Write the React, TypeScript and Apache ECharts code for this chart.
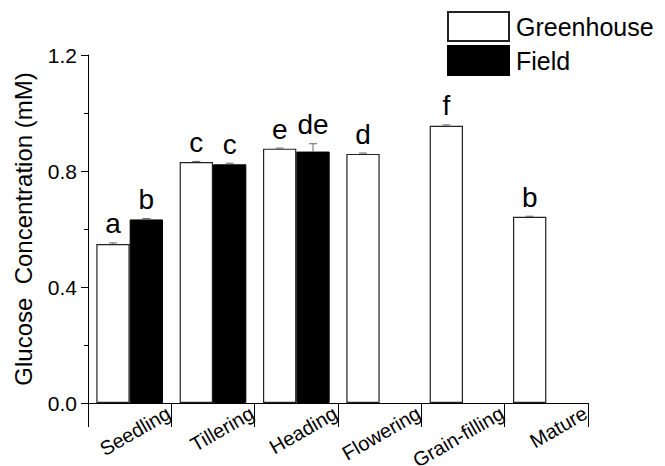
import React, { useEffect, useRef } from "react";
import * as echarts from "echarts";

const categories = ["Seedling", "Tillering", "Heading", "Flowering", "Grain-filling", "Mature"];
const greenhouse = [0.548, 0.831, 0.877, 0.859, 0.956, 0.642];
const greenhouseErr = [0.004, 0.002, 0.002, 0.003, 0.003, 0.002];
const greenhouseLetters = ["a", "c", "e", "d", "f", "b"];
const field: (number | null)[] = [0.633, 0.823, 0.867, null, null, null];
const fieldErr: (number | null)[] = [0.003, 0.004, 0.027, null, null, null];
const fieldLetters: (string | null)[] = ["b", "c", "de", null, null, null];
const yTicks = [0, 0.4, 0.8, 1.2];

const FONT = "'Liberation Sans', Arial, sans-serif";

export default function App() {
  const ref = useRef<HTMLDivElement>(null);
  useEffect(() => {
    if (!ref.current) return;
    const chart = echarts.init(ref.current, undefined, { renderer: "svg" });

    const errItems: { ci: number; v: number; e: number; side: number; letter: string }[] = [];
    categories.forEach((_, i) => {
      errItems.push({ ci: i, v: greenhouse[i], e: greenhouseErr[i], side: -1, letter: greenhouseLetters[i] });
      if (field[i] != null) {
        errItems.push({ ci: i, v: field[i] as number, e: (fieldErr[i] as number) || 0, side: 1, letter: fieldLetters[i] || "" });
      }
    });

    chart.setOption({
      animation: false,
      textStyle: { fontFamily: FONT, color: "#000" },
      legend: {
        orient: "vertical",
        left: 447,
        top: 11,
        padding: 0,
        itemWidth: 61,
        itemHeight: 29,
        itemGap: 3,
        icon: "rect",
        data: ["Greenhouse", "Field"],
        textStyle: { fontSize: 25, fontFamily: FONT, color: "#000", padding: [0, 0, 0, 2] },
      },
      grid: { left: 88, top: 55, width: 500, height: 348, containLabel: false, outerBoundsMode: "none" },
      xAxis: [
        {
          type: "category",
          data: categories,
          boundaryGap: true,
          axisLine: { show: true, lineStyle: { color: "#000", width: 1 } },
          axisTick: { show: true, length: 24, lineStyle: { color: "#000", width: 1 } },
          axisLabel: { show: false },
          splitLine: { show: false },
        },
        {
          type: "category",
          position: "bottom",
          data: ["", ...categories],
          boundaryGap: false,
          axisLine: { show: false },
          axisTick: { show: false },
          splitLine: { show: false },
          axisLabel: {
            interval: 0,
            rotate: 30,
            margin: 7,
            align: "right",
            verticalAlign: "middle",
            padding: [0, 3, 0, 0],
            fontSize: 20,
            fontFamily: FONT,
            color: "#000",
            hideOverlap: false,
          },
        },
      ],
      yAxis: {
        type: "value",
        min: yTicks[0],
        max: yTicks[yTicks.length - 1],
        interval: 0.4,
        name: "Glucose  Concentration (mM)",
        nameLocation: "middle",
        nameGap: 53,
        nameTextStyle: { fontSize: 24, fontFamily: FONT, color: "#000" },
        axisLine: { show: true, lineStyle: { color: "#000", width: 1 } },
        axisTick: { show: true, length: 7, lineStyle: { color: "#000", width: 1 } },
        minorTick: { show: true, splitNumber: 2, length: 4, lineStyle: { color: "#000", width: 1 } },
        splitLine: { show: false },
        axisLabel: {
          fontSize: 21,
          margin: 11,
          fontFamily: FONT,
          color: "#000",
          formatter: (v: number) => v.toFixed(1),
        },
      },
      series: [
        {
          name: "Greenhouse",
          type: "bar",
          xAxisIndex: 0,
          data: greenhouse,
          barGap: "0%",
          barCategoryGap: "20%",
          itemStyle: { color: "#fff", borderColor: "#222", borderWidth: 1.2 },
        },
        {
          name: "Field",
          type: "bar",
          xAxisIndex: 0,
          data: field,
          barGap: "0%",
          barCategoryGap: "20%",
          itemStyle: { color: "#000", borderColor: "#000", borderWidth: 1 },
        },
        {
          name: "errors",
          type: "custom",
          xAxisIndex: 0,
          z: 10,
          data: errItems.map((d) => [d.ci, d.v, d.e, d.side]),
          renderItem: (params: any, api: any) => {
            const item = errItems[params.dataIndex];
            const ci = api.value(0);
            const v = api.value(1);
            const e = api.value(2);
            const side = api.value(3);
            const base = api.coord([ci, v]);
            const band = api.size([1, 0])[0];
            const x = base[0] + side * band * 0.2;
            const yTop = api.coord([ci, v + e])[1];
            return {
              type: "group",
              children: [
                { type: "line", shape: { x1: x, y1: base[1], x2: x, y2: yTop }, style: { stroke: "#666", lineWidth: 1 } },
                { type: "line", shape: { x1: x - 4, y1: yTop, x2: x + 4, y2: yTop }, style: { stroke: "#666", lineWidth: 1 } },
                {
                  type: "text",
                  x: x,
                  y: yTop - 19,
                  style: {
                    text: item.letter,
                    fontSize: 28,
                    fontFamily: FONT,
                    fill: "#000",
                    align: "center",
                    verticalAlign: "middle",
                  },
                },
              ],
            };
          },
        },
      ],
    });
    return () => chart.dispose();
  }, []);
  return <div ref={ref} style={{ position: "absolute", left: 0, top: 0, width: 665, height: 466, background: "#fff" }} />;
}
